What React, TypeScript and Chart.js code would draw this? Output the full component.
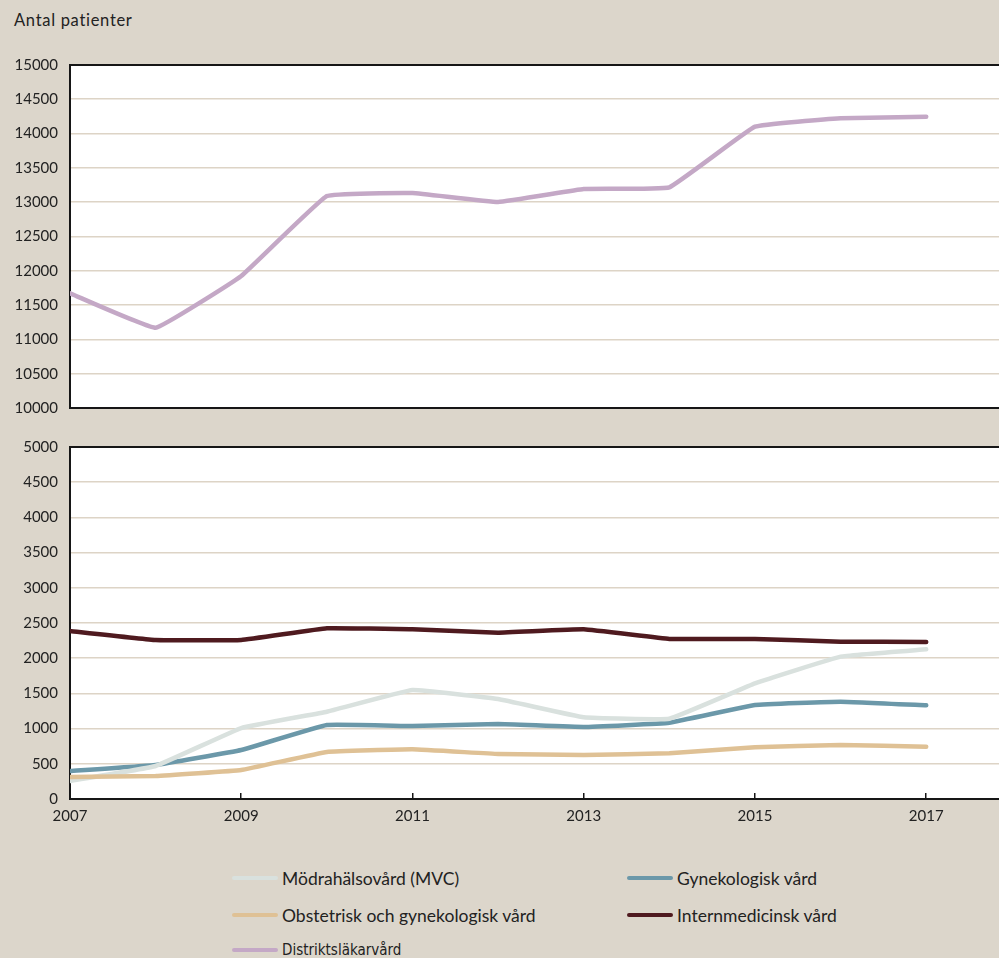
import React, { useEffect, useRef } from "react";
import { Chart, registerables } from "chart.js";

Chart.register(...registerables);

const years = [2007, 2008, 2009, 2010, 2011, 2012, 2013, 2014, 2015, 2016, 2017];
const distriktslakarvard = [11672, 11170, 11924, 13090, 13134, 13003, 13192, 13217, 14101, 14223, 14247];
const modrahalsovard = [256, 469, 1008, 1240, 1548, 1420, 1160, 1141, 1643, 2022, 2126];
const gynekologisk = [398, 483, 696, 1051, 1037, 1065, 1023, 1084, 1335, 1383, 1330];
const obstetrisk = [312, 327, 412, 668, 706, 639, 625, 649, 734, 767, 743];
const internmedicinsk = [2386, 2258, 2258, 2425, 2410, 2362, 2410, 2273, 2273, 2235, 2230];

const xTicks = [2007, 2009, 2011, 2013, 2015, 2017];
const topYTicks = [10000, 10500, 11000, 11500, 12000, 12500, 13000, 13500, 14000, 14500, 15000];
const bottomYTicks = [0, 500, 1000, 1500, 2000, 2500, 3000, 3500, 4000, 4500, 5000];

const seriesNames = [
  "Mödrahälsovård (MVC)",
  "Gynekologisk vård",
  "Obstetrisk och gynekologisk vård",
  "Internmedicinsk vård",
  "Distriktsläkarvård",
];
const seriesColors = ["#d9e1de", "#6b98a9", "#dfc195", "#4f1a1f", "#c4a8c6"];

const BG = "#dcd6cb";
const GRID = "#ddd4c6";
const DARK = "#161616";
const TEXT = "#222";
const X_MIN = 2007;
const X_MAX = 2017.85;

const toPoints = (vals: number[]) => vals.map((v, i) => ({ x: years[i], y: v }));

const lineDs = (label: string, color: string, vals: number[]) => ({
  label,
  data: toPoints(vals),
  borderColor: color,
  backgroundColor: color,
  borderWidth: 4.5,
  pointRadius: 0,
  pointHoverRadius: 0,
  tension: 0.08,
  borderCapStyle: "round" as const,
  borderJoinStyle: "round" as const,
  fill: false,
});

const plotBg = {
  id: "plotBg",
  beforeDraw(chart: any) {
    const { ctx, chartArea } = chart;
    if (!chartArea) return;
    ctx.save();
    ctx.fillStyle = "#ffffff";
    ctx.fillRect(chartArea.left, chartArea.top, chartArea.right - chartArea.left, chartArea.bottom - chartArea.top);
    ctx.restore();
  },
};

Chart.defaults.font.family = "Lato, 'Open Sans', sans-serif";

export default function App() {
  const topRef = useRef<HTMLCanvasElement | null>(null);
  const botRef = useRef<HTMLCanvasElement | null>(null);

  useEffect(() => {
    const yCommon = (ticksArr: number[], min: number, max: number, darkVals: number[]) => ({
      type: "linear" as const,
      min,
      max,
      afterFit: (s: any) => {
        s.width = 70;
      },
      afterBuildTicks: (s: any) => {
        s.ticks = ticksArr.map((v) => ({ value: v }));
      },
      ticks: {
        color: TEXT,
        padding: 12,
        font: { size: 15 },
        callback: (v: any) => String(v),
      },
      grid: {
        drawTicks: false,
        color: (ctx: any) => (darkVals.includes(ctx.tick?.value) ? DARK : GRID),
        lineWidth: (ctx: any) => (darkVals.includes(ctx.tick?.value) ? 2 : 1.6),
      },
      border: { display: true, color: DARK, width: 2 },
    });

    const top = new Chart(topRef.current!, {
      type: "line",
      data: {
        datasets: [lineDs(seriesNames[4], seriesColors[4], distriktslakarvard)],
      },
      options: {
        animation: false,
        responsive: false,
        layout: { padding: { top: 65, bottom: 22, left: 0, right: 0 } },
        plugins: { legend: { display: false }, tooltip: { enabled: false } },
        scales: {
          x: { type: "linear", min: X_MIN, max: X_MAX, display: false },
          y: yCommon(topYTicks, 10000, 15000, [10000, 15000]),
        },
      },
      plugins: [plotBg],
    });

    const bottom = new Chart(botRef.current!, {
      type: "line",
      data: {
        datasets: [
          lineDs(seriesNames[3], seriesColors[3], internmedicinsk),
          lineDs(seriesNames[2], seriesColors[2], obstetrisk),
          lineDs(seriesNames[0], seriesColors[0], modrahalsovard),
          lineDs(seriesNames[1], seriesColors[1], gynekologisk),
        ],
      },
      options: {
        animation: false,
        responsive: false,
        layout: { padding: { top: 17, bottom: 0, left: 0, right: 0 } },
        plugins: { legend: { display: false }, tooltip: { enabled: false } },
        scales: {
          x: {
            type: "linear",
            min: X_MIN,
            max: X_MAX,
            afterFit: (s: any) => {
              s.height = 41;
            },
            afterBuildTicks: (s: any) => {
              s.ticks = xTicks.map((v) => ({ value: v }));
            },
            ticks: {
              color: TEXT,
              padding: 14,
              font: { size: 15 },
              maxRotation: 0,
              autoSkip: false,
              callback: (v: any) => String(v),
            },
            grid: {
              display: true,
              drawOnChartArea: false,
              drawTicks: true,
              tickLength: -6,
              color: DARK,
              lineWidth: 1.5,
            },
            border: { display: true, color: DARK, width: 2 },
          },
          y: yCommon(bottomYTicks, 0, 5000, [5000]),
        },
      },
      plugins: [plotBg],
    });

    return () => {
      top.destroy();
      bottom.destroy();
    };
  }, []);

  const legendPos = [
    { left: 232, top: 878 },
    { left: 627, top: 878 },
    { left: 232, top: 915 },
    { left: 627, top: 915 },
    { left: 232, top: 950 },
  ];

  return (
    <div
      style={{
        position: "absolute",
        left: 0,
        top: 0,
        width: 999,
        height: 958,
        background: BG,
        overflow: "hidden",
        fontFamily: "Lato, 'Open Sans', sans-serif",
      }}
    >
      <div
        style={{
          position: "absolute",
          left: 14,
          top: 9,
          fontSize: 16.5,
          letterSpacing: 0.7,
          color: TEXT,
          lineHeight: "22px",
        }}
      >
        Antal patienter
      </div>
      <canvas
        ref={topRef}
        width={999}
        height={430}
        style={{ position: "absolute", left: 0, top: 0, width: 999, height: 430 }}
      />
      <canvas
        ref={botRef}
        width={999}
        height={414}
        style={{ position: "absolute", left: 0, top: 426, width: 999, height: 414 }}
      />
      {seriesNames.map((name, i) => (
        <div
          key={name}
          style={{
            position: "absolute",
            left: legendPos[i].left,
            top: legendPos[i].top - 12,
            height: 24,
            display: "flex",
            alignItems: "center",
            whiteSpace: "nowrap",
          }}
        >
          <div
            style={{
              width: 46,
              height: 4,
              borderRadius: 2,
              background: seriesColors[i],
              marginRight: 4,
            }}
          />
          <span
            style={
              i === 4
                ? {
                    fontFamily: "'Liberation Sans Narrow', 'DejaVu Sans Condensed', sans-serif",
                    fontSize: 15,
                    color: TEXT,
                  }
                : { fontSize: 17.5, color: TEXT }
            }
          >
            {name}
          </span>
        </div>
      ))}
    </div>
  );
}
